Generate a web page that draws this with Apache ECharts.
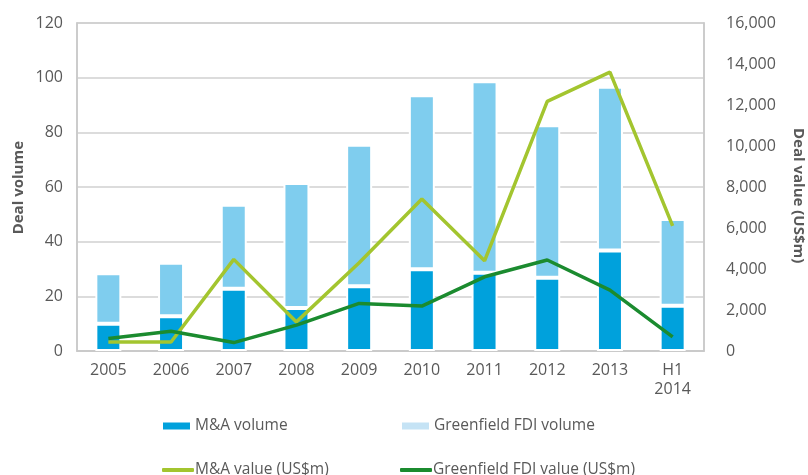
<!DOCTYPE html>
<html>
<head>
<meta charset="utf-8">
<script src="https://cdn.jsdelivr.net/npm/echarts@6/dist/echarts.min.js"></script>
<style>html,body{margin:0;padding:0;background:#fff}#c{width:808px;height:475px}</style>
</head>
<body>
<div id="c"></div>
<script>
const categories = ['2005','2006','2007','2008','2009','2010','2011','2012','2013','H1\n2014'];
const maVolume = [10, 12.7, 22.8, 15.7, 23.7, 29.9, 28.6, 26.8, 36.8, 16.6];
const totalVolume = [28.4, 32.3, 53.5, 61.5, 75.5, 93.6, 98.7, 82.6, 96.7, 48.3];
const greenfieldVolume = totalVolume.map((t, i) => +(t - maVolume[i]).toFixed(1));
const maValue = [440, 440, 4470, 1420, 4300, 7410, 4400, 12180, 13600, 6100];
const greenfieldValue = [610, 960, 410, 1260, 2320, 2190, 3620, 4440, 2970, 690];
const leftTicks = [0, 20, 40, 60, 80, 100, 120];
const rightTicks = [0, 2000, 4000, 6000, 8000, 10000, 12000, 14000, 16000];

const chart = echarts.init(document.getElementById('c'));
const txt = '#595959';
const font = 'Open Sans';
const barBorder = {borderColor: '#fff', borderWidth: 2};
const legendText = pad => ({color: txt, fontFamily: font, fontSize: 15.5, padding: [0,0,0,pad]});
chart.setOption({
  animation: false,
  grid: {left: 77, right: 104, top: 23, bottom: 124, show: true, borderColor: '#c8c8c8', borderWidth: 1.5},
  legend: [
    {left: 156, top: 413, itemWidth: 29, itemHeight: 9, textStyle: legendText(-1),
      data: [{name: 'M&A volume', icon: 'rect'}]},
    {left: 395, top: 413, itemWidth: 29, itemHeight: 9, textStyle: legendText(-1),
      data: [{name: 'Greenfield FDI volume', icon: 'rect', itemStyle: {color: '#c5e3f5'}}]},
    {left: 157, top: 457, itemWidth: 32, itemHeight: 4, textStyle: legendText(-4),
      data: [{name: 'M&A value (US$m)', icon: 'roundRect'}]},
    {left: 395, top: 457, itemWidth: 32, itemHeight: 4, textStyle: legendText(-4),
      data: [{name: 'Greenfield FDI value (US$m)', icon: 'roundRect'}]}
  ],
  xAxis: {
    type: 'category', data: categories,
    axisLine: {show: true, lineStyle: {color: '#c8c8c8', width: 1.5}},
    axisTick: {show: false},
    axisLabel: {color: txt, fontFamily: font, fontSize: 16, margin: 10, lineHeight: 19}
  },
  yAxis: [
    {type: 'value', min: 0, max: 120, interval: 20,
      axisLine: {show: true, lineStyle: {color: '#c8c8c8', width: 1.5}},
      axisTick: {show: false},
      splitLine: {lineStyle: {color: '#d0d0d0', width: 1.5}},
      axisLabel: {color: txt, fontFamily: font, fontSize: 16, margin: 14}},
    {type: 'value', min: 0, max: 16000, interval: 2000,
      axisLine: {show: true, lineStyle: {color: '#c8c8c8', width: 1.5}},
      axisTick: {show: false},
      splitLine: {show: false},
      axisLabel: {color: txt, fontFamily: font, fontSize: 16, margin: 22,
        formatter: v => v.toLocaleString('en-US')}}
  ],
  graphic: [
    {type: 'text', left: 11, top: 141, rotation: Math.PI/2,
      style: {text: 'Deal volume', fill: txt, font: 'bold 15px "Open Sans"'}},
    {type: 'text', left: 791, top: 128, rotation: -Math.PI/2,
      style: {text: 'Deal value (US$m)', fill: txt, font: 'bold 15px "Open Sans"'}}
  ],
  series: [
    {name: 'M&A volume', type: 'bar', stack: 'v', data: maVolume, barWidth: 26,
      itemStyle: Object.assign({color: '#00a1dc'}, barBorder)},
    {name: 'Greenfield FDI volume', type: 'bar', stack: 'v', data: greenfieldVolume, barWidth: 26,
      itemStyle: Object.assign({color: '#7fcdee'}, barBorder)},
    {name: 'M&A value (US$m)', type: 'line', yAxisIndex: 1, data: maValue, symbol: 'none',
      lineStyle: {color: '#a3c52f', width: 3.5}, itemStyle: {color: '#a3c52f'}},
    {name: 'Greenfield FDI value (US$m)', type: 'line', yAxisIndex: 1, data: greenfieldValue, symbol: 'none',
      lineStyle: {color: '#1b8b2f', width: 3.5}, itemStyle: {color: '#1b8b2f'}}
  ]
});
</script>
</body>
</html>
